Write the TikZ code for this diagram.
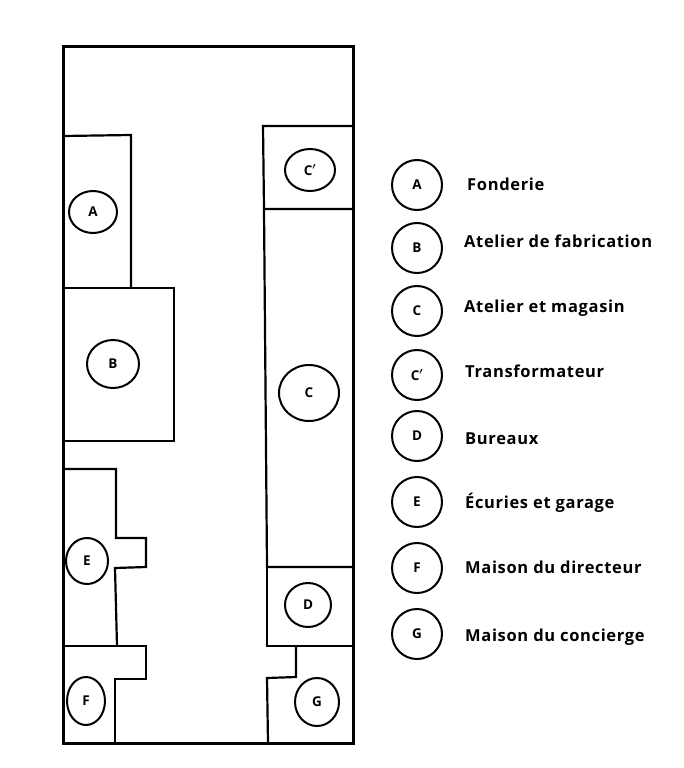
\documentclass[tikz,border=0pt]{standalone}
\usepackage{fontspec}
\setmainfont{Open Sans}
\newfontfamily\keyfont[LetterSpace=4]{Open Sans}
\usetikzlibrary{shapes.geometric}

\tikzset{
	wall/.style={line width=2.2pt, black, line join=miter},
	tag/.style={ellipse, draw=black, line width=2pt, inner sep=0pt, font=\bfseries\boldmath\fontsize{13.5}{14}\selectfont},
	legendtag/.style={tag, minimum width=50pt, minimum height=50pt},
	legendtext/.style={anchor=base west, inner sep=0pt, font=\keyfont\bfseries\fontsize{16.5}{18}\selectfont},
}

\begin{document}
\begin{tikzpicture}[x=1pt, y=-1pt]
	\useasboundingbox (0,0) rectangle (684,768);

	% batiments
	\draw[wall] (63,136)--(131,135)--(131,288);
	\draw[wall] (63,288)--(174,288)--(174,441)--(63,441);
	\draw[wall] (353,126)--(263,126)--(264,209)--(353,209);
	\draw[wall] (264,209)--(267,567)--(353,567);
	\draw[wall] (267,567)--(267,646)--(353,646);
	\draw[wall] (296,646)--(296,677)--(267,678)--(268,743);
	\draw[wall] (63,469)--(116,469)--(116,538)--(146,538)--(146,567)--(115,568)--(117,646);
	\draw[wall] (63,646)--(146,646)--(146,679)--(115,679)--(115,743);
	\draw[line width=3pt, black] (63,47)--(353,47)--(353,743)--(63,743)--cycle;

	% plan
	\node[tag, minimum width=48pt, minimum height=42pt] (planA) at (93,212){A};
	\node[tag, minimum width=52pt, minimum height=48pt] (planB) at (113,364){B};
	\node[tag, minimum width=60pt, minimum height=56pt] (planC) at (309,393){C};
	\node[tag, minimum width=50pt, minimum height=42pt] (planCp) at (310,170){C$'$};
	\node[tag, minimum width=46pt, minimum height=44pt] (planD) at (308,605){D};
	\node[tag, minimum width=42pt, minimum height=46pt] (planE) at (87,561){E};
	\node[tag, minimum width=38pt, minimum height=48pt] (planF) at (86,701){F};
	\node[tag, minimum width=44pt, minimum height=48pt] (planG) at (317,702){G};

	% legende
	\node[legendtag] (keyA) at (417,185){A};
	\node[legendtag] (keyB) at (417,248){B};
	\node[legendtag] (keyC) at (417,311){C};
	\node[legendtag] (keyCp) at (417,375){C$'$};
	\node[legendtag] (keyD) at (417,436){D};
	\node[legendtag] (keyE) at (417,502){E};
	\node[legendtag] (keyF) at (417,568){F};
	\node[legendtag] (keyG) at (417,634){G};

	\node[legendtext] (textA) at (467,190){Fonderie};
	\node[legendtext] (textB) at (464,247){Atelier de fabrication};
	\node[legendtext] (textC) at (464,312){Atelier et magasin};
	\node[legendtext] (textCp) at (465,377){Transformateur};
	\node[legendtext] (textD) at (465,444){Bureaux};
	\node[legendtext] (textE) at (465,508){Écuries et garage};
	\node[legendtext] (textF) at (465,573){Maison du directeur};
	\node[legendtext] (textG) at (465,641){Maison du concierge};
\end{tikzpicture}
\end{document}
